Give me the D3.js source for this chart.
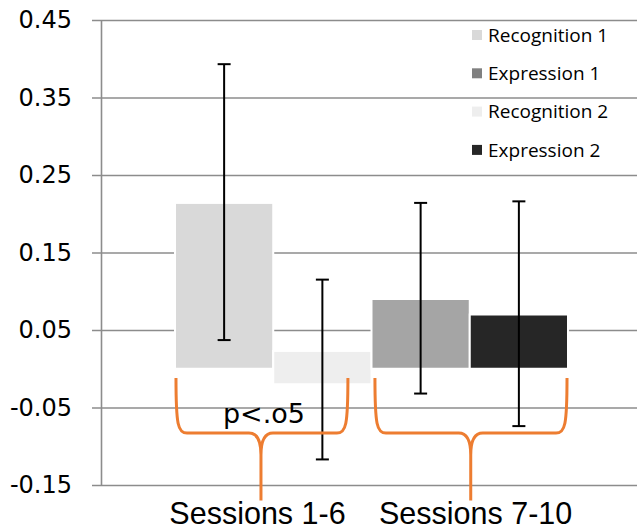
<!DOCTYPE html>
<html>
<head>
<meta charset="utf-8">
<script src="https://cdn.jsdelivr.net/npm/d3@7"></script>
<style>
  body { margin: 0; background: #fff; }
  svg { display: block; }
</style>
</head>
<body>
<div id="chart"></div>
<script>
// bars, left to right
const barNames = ['Recognition 1', 'Recognition 2', 'Expression 1', 'Expression 2'];
const barTop = [0.214, 0.023, 0.090, 0.070];
const barBase = [0, -0.020, 0, 0];
const errHigh = [0.393, 0.115, 0.214, 0.216];
const errLow = [0.037, -0.117, -0.032, -0.074];
const barColors = ['#d9d9d9', '#eeeeee', '#a5a5a5', '#262626'];

// legend, in its own order
const legendNames = ['Recognition 1', 'Expression 1', 'Recognition 2', 'Expression 2'];
const legendColors = ['#d9d9d9', '#808080', '#eeeeee', '#262626'];

const yTicks = [-0.15, -0.05, 0.05, 0.15, 0.25, 0.35, 0.45];

// orange braces, x in bar units (0..4), y in data units
const braceFrom = [0.01, 2.035];
const braceTo = [1.76, 3.99];
const braceTip = [0.875, 3.01];
const braceTop = -0.012, braceMid = -0.083, braceEnd = -0.170;
const groupLabels = ['Sessions 1-6', 'Sessions 7-10'];
const groupLabelAt = [0.84, 3.06];
const noteText = 'p<.o5';
const noteAt = [0.905, -0.070];

const W = 637, H = 529;
const margin = { top: 20, right: 0, bottom: 44, left: 101 };

const svg = d3.select('#chart').append('svg')
  .attr('width', W)
  .attr('height', H);

const y = d3.scaleLinear()
  .domain([-0.15, 0.45])
  .range([H - margin.bottom, margin.top]);

const x = d3.scaleBand()
  .domain(barNames)
  .range([175, 568])
  .padding(0);

// bar units -> pixels, for the annotations
const u = d3.scaleLinear()
  .domain([0, 4])
  .range(x.range());

// y axis with gridlines
const axis = d3.axisLeft(y)
  .tickValues(yTicks)
  .tickFormat(d3.format('.2f'))
  .tickSizeInner(-(W - margin.left + 5))
  .tickSizeOuter(0)
  .tickPadding(29);

svg.append('g')
  .attr('class', 'axis')
  .attr('transform', 'translate(' + margin.left + ',0)')
  .call(axis)
  .call(g => g.select('.domain').attr('stroke', '#8c8c8c').attr('stroke-width', 1.6))
  .call(g => g.selectAll('.tick line')
    .attr('x1', -9)
    .attr('stroke', '#8c8c8c')
    .attr('stroke-width', 1.6))
  .call(g => g.selectAll('.tick text')
    .attr('fill', '#000')
    .style('font-family', 'DejaVu Sans')
    .style('font-size', '24px')
    .text(d => d3.format('.2f')(d).replace('−', '-')));

// bars
svg.append('g')
  .selectAll('rect')
  .data(barNames)
  .join('rect')
    .attr('x', d => x(d))
    .attr('width', x.bandwidth())
    .attr('y', (d, i) => y(barTop[i]))
    .attr('height', (d, i) => y(barBase[i]) - y(barTop[i]))
    .attr('fill', (d, i) => barColors[i])
    .attr('stroke', '#fff')
    .attr('stroke-width', 2);

// error bars
const cap = 6.5;
const err = svg.append('g')
  .attr('stroke', '#000')
  .attr('stroke-width', 2);

barNames.forEach((d, i) => {
  const cx = x(d) + x.bandwidth() / 2;
  err.append('line')
    .attr('x1', cx).attr('x2', cx)
    .attr('y1', y(errHigh[i])).attr('y2', y(errLow[i]));
  [errHigh[i], errLow[i]].forEach(v => {
    err.append('line')
      .attr('x1', cx - cap).attr('x2', cx + cap)
      .attr('y1', y(v)).attr('y2', y(v));
  });
});

// legend
const legend = svg.append('g')
  .selectAll('g')
  .data(legendNames)
  .join('g')
    .attr('transform', (d, i) => 'translate(472,' + (35 + i * 38.3) + ')');

legend.append('rect')
  .attr('y', -5)
  .attr('width', 10)
  .attr('height', 10)
  .attr('fill', (d, i) => legendColors[i]);

legend.append('text')
  .attr('x', 16)
  .attr('dy', '0.35em')
  .style('font-family', 'Open Sans')
  .style('font-size', '19px')
  .text(d => d);

// braces
function bracePath(i) {
  const x0 = u(braceFrom[i]), x1 = u(braceTo[i]), xt = u(braceTip[i]);
  const yt = y(braceTop), ym = y(braceMid), yb = y(braceEnd);
  const p = d3.path();
  p.moveTo(x0, yt);
  p.bezierCurveTo(x0, ym - 8, x0 + 2, ym, x0 + 11, ym);
  p.lineTo(xt - 12, ym);
  p.quadraticCurveTo(xt, ym, xt, ym + 22);
  p.lineTo(xt, yb);
  p.moveTo(xt, ym + 22);
  p.quadraticCurveTo(xt, ym, xt + 12, ym);
  p.lineTo(x1 - 11, ym);
  p.bezierCurveTo(x1 - 2, ym, x1, ym - 8, x1, yt);
  return p.toString();
}

svg.append('g')
  .selectAll('path')
  .data(groupLabels)
  .join('path')
    .attr('d', (d, i) => bracePath(i))
    .attr('fill', 'none')
    .attr('stroke', '#ed7d31')
    .attr('stroke-width', 3);

svg.append('g')
  .selectAll('text')
  .data(groupLabels)
  .join('text')
    .attr('x', (d, i) => u(groupLabelAt[i]))
    .attr('y', 524)
    .attr('text-anchor', 'middle')
    .style('font-family', 'Liberation Sans')
    .style('font-size', '30.5px')
    .text(d => d);

svg.append('text')
  .attr('x', u(noteAt[0]))
  .attr('y', y(noteAt[1]))
  .attr('text-anchor', 'middle')
  .style('font-family', 'DejaVu Sans')
  .style('font-size', '27px')
  .text(noteText);
</script>
</body>
</html>
